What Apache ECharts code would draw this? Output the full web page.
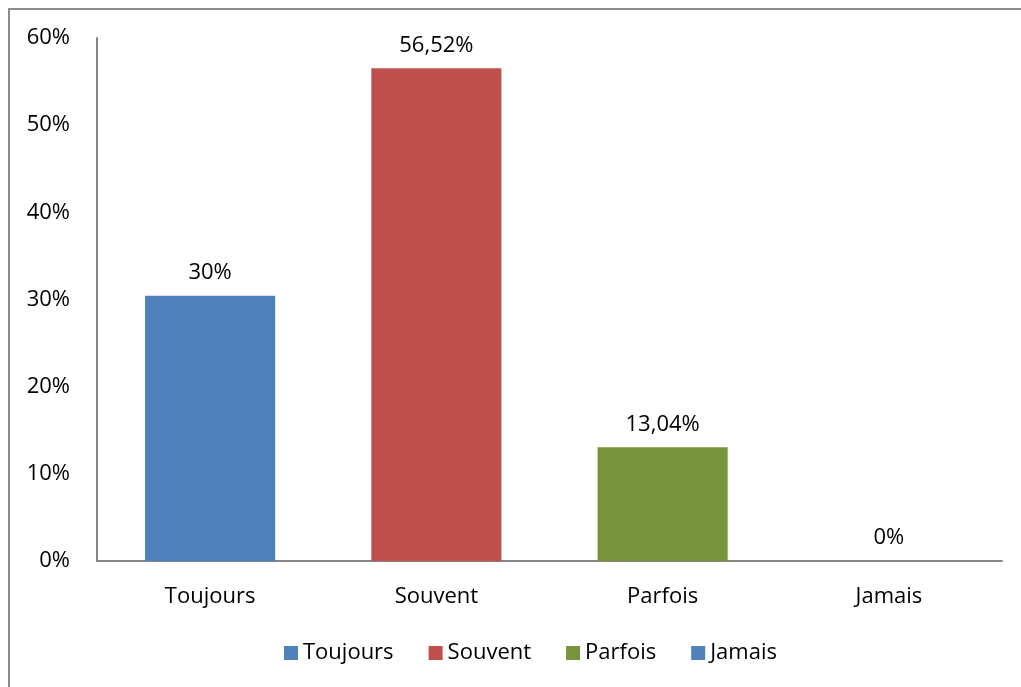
<!DOCTYPE html>
<html>
<head>
<meta charset="utf-8">
<script src="https://cdn.jsdelivr.net/npm/echarts@6/dist/echarts.min.js"></script>
<style>
    html, body { margin: 0; padding: 0; background: #fff; }
    #frame {
        position: absolute; left: 8px; top: 8px; width: 1100px; height: 800px;
        border-left: 2px solid #8c8c8c; border-top: 2px solid #8c8c8c;
    }
    #chart { position: absolute; left: 0; top: 0; width: 1021px; height: 687px; }
</style>
</head>
<body>
<div id="frame"></div>
<div id="chart"></div>
<script>
// categories and values (percent)
const categories = ['Toujours', 'Souvent', 'Parfois', 'Jamais']
const values = [30.43, 56.52, 13.04, 0]
const valueLabels = ['30%', '56,52%', '13,04%', '0%']
const colors = ['#4f81bd', '#c0504d', '#77933c', '#4f81bd']
const yTicks = [0, 10, 20, 30, 40, 50, 60]

const font = 'Open Sans'
const size = 22

const chart = echarts.init(document.getElementById('chart'))

const series = categories.map((name, i) => ({
    name: name,
    type: 'bar',
    stack: 'all',
    barWidth: '57.5%',
    itemStyle: { color: colors[i] },
    label: {
        show: true,
        position: 'top',
        distance: 12,
        color: '#000',
        fontFamily: font,
        fontSize: size,
        formatter: () => valueLabels[i]
    },
    data: values.map((v, j) => (j === i ? v : '-'))
}))

chart.setOption({
    animation: false,
    textStyle: { fontFamily: font },
    grid: { left: 97, right: 19, top: 38, bottom: 126 },
    legend: {
        bottom: 18,
        left: 279,
        itemWidth: 14,
        itemHeight: 14,
        itemGap: 35,
        icon: 'rect',
        textStyle: { fontFamily: font, fontSize: size, color: '#000' },
        data: categories
    },
    xAxis: {
        type: 'category',
        data: categories,
        axisLine: { lineStyle: { color: '#868686', width: 2 } },
        axisTick: { show: false },
        axisLabel: { color: '#000', fontSize: size, fontFamily: font, margin: 25 }
    },
    yAxis: {
        type: 'value',
        min: yTicks[0],
        max: yTicks[yTicks.length - 1],
        interval: 10,
        splitLine: { show: false },
        axisLine: { show: true, lineStyle: { color: '#868686', width: 2 } },
        axisTick: { show: false },
        axisLabel: { color: '#000', fontSize: size, fontFamily: font, margin: 27, formatter: '{value}%' }
    },
    series: series
})
</script>
</body>
</html>
